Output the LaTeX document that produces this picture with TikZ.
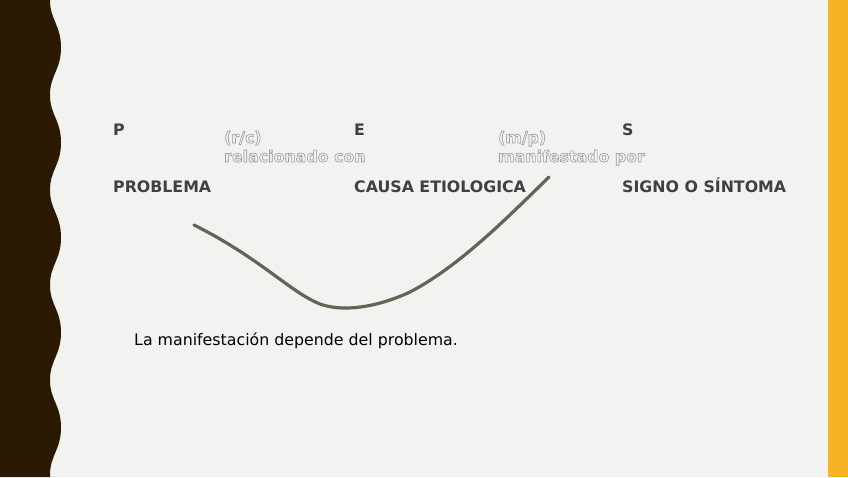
\documentclass[tikz,border=0pt]{standalone}
\usepackage{fontspec}
\setmainfont{DejaVu Sans}
\definecolor{bg}{HTML}{F2F2F0}
\definecolor{brownbar}{HTML}{2A1A03}
\definecolor{yellowbar}{HTML}{F8B323}
\definecolor{txt}{HTML}{404040}
\definecolor{curvec}{HTML}{636356}
\definecolor{outl}{HTML}{9A9A9A}
\newcommand{\outltext}[1]{\special{pdf:literal direct 1 Tr 0.6 w}#1\special{pdf:literal direct 0 Tr}}
\tikzset{
  lbl/.style={anchor=base west, inner sep=0pt, text=txt, font=\bfseries\fontsize{15.8}{18}\selectfont},
  olbl/.style={anchor=base west, inner sep=0pt, text=outl, font=\bfseries\fontsize{15.8}{18}\selectfont},
  body/.style={anchor=base west, inner sep=0pt, text=black, font=\fontsize{15.8}{18}\selectfont}
}
\begin{document}
\begin{tikzpicture}[x=1pt,y=-1pt]
\useasboundingbox (0,0) rectangle (848,477);
\fill[bg] (0,0) rectangle (848,477);
% wavy dark band
\fill[brownbar] (0,0) -- (50,0)
  \foreach \k in {0,...,4} {
    .. controls ({50}, {\k*95+20}) and ({61}, {\k*95+25}) .. ({61},{\k*95+47.5})
    .. controls ({61}, {\k*95+70}) and ({50}, {\k*95+75}) .. ({50},{\k*95+95})
  } -- (50,477) -- (0,477) -- cycle;
% yellow bar
\fill[yellowbar] (828,0) rectangle (848,477);
% labels
\node[lbl] (p) at (113,135) {P};
\node[lbl] (e) at (354,135) {E};
\node[lbl] (s) at (622,135) {S};
\node[lbl] (prob) at (113,192) {PROBLEMA};
\node[lbl] (causa) at (354,192) {CAUSA ETIOLOGICA};
\node[lbl] (signo) at (622,192) {SIGNO O SÍNTOMA};
\node[olbl] (rc) at (224,143) {\outltext{(r/c)}};
\node[olbl] (rel) at (224,162) {\outltext{relacionado con}};
\node[olbl] (mp) at (498,143) {\outltext{(m/p)}};
\node[olbl] (man) at (498,162) {\outltext{manifestado por}};
\node[body] (note) at (134,345) {La manifestación depende del problema.};
% curve
\coordinate (c1) at (194,225);
\coordinate (c2) at (549,177);
\draw[curvec, line width=3.2pt, line cap=round]
  (c1) .. controls (260,258) and (290,292) .. (320,304)
  .. controls (345,313) and (380,306) .. (410,292)
  .. controls (460,266) and (510,215) .. (c2);
\end{tikzpicture}
\end{document}
